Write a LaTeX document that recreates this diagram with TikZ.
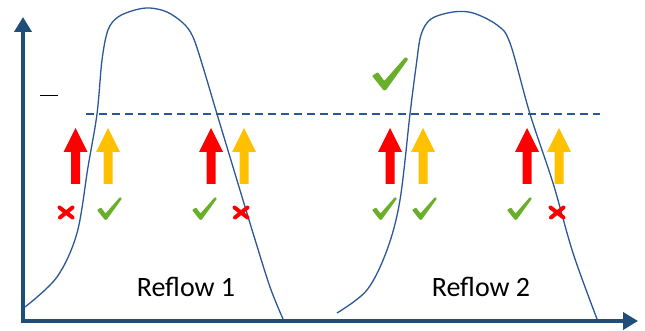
\documentclass[tikz,border=0pt]{standalone}
\usepackage{fontspec}
\setmainfont{Carlito}
\usetikzlibrary{arrows.meta}
\definecolor{axisblue}{HTML}{1F4E79}
\definecolor{curveblue}{HTML}{2B5797}
\definecolor{okgreen}{HTML}{6AAF2A}
\definecolor{arrred}{HTML}{FF0000}
\definecolor{arryel}{HTML}{FFC000}
\tikzset{
  axisline/.style={draw=axisblue, line width=4pt, -{Triangle[length=15pt,width=17pt]}},
  profile/.style={draw=curveblue, line width=1.3pt},
  limitline/.style={draw=curveblue, line width=1.1pt, dash pattern=on 8pt off 5pt},
  lbl/.style={font=\fontsize{28}{30}\selectfont, inner sep=0pt},
  blockarrow/.pic={\fill (-4.5,184) -- (-4.5,152) -- (-12,152) -- (0,128) -- (12,152) -- (4.5,152) -- (4.5,184) -- cycle;},
  chk/.pic={\fill[okgreen, rounded corners=0.8pt] (0,13) -- (4,10.5) -- (8.5,16.5) -- (23,0) -- (25,1.5) -- (9.5,23) -- (8,23) -- cycle;},
  crs/.pic={\draw[arrred, line width=4pt, line cap=round] (2.5,2.5) -- (15.5,12.5) (15.5,2.5) -- (3,12.5);}
}
\begin{document}
\begin{tikzpicture}[x=1pt,y=-1pt]
\useasboundingbox (0,0) rectangle (645,331);
% axes
\coordinate (o) at (23,321);
\coordinate (ytop) at (23,17);
\coordinate (xend) at (638,321);
\draw[axisline] (23,323) -- (ytop);
\draw[axisline] (21,321) -- (xend);
% small black tick
\draw[black, line width=0.9pt] (40,95) -- (58,95);
% dashed limit line
\coordinate (d1) at (86,114);
\coordinate (d2) at (600,114);
\draw[limitline] (d1) -- (d2);
% profiles
\draw[profile] plot[smooth, tension=0.55] coordinates {(25,307) (57,277) (77,233) (88,167) (97,114) (102,60) (108,30) (118,17) (135,10) (150,8) (167,12) (183,23) (193,37) (203,67) (217,114) (233,167) (253,233) (270,287) (283,319)};
\draw[profile] plot[smooth, tension=0.55] coordinates {(337,313) (367,290) (387,250) (400,200) (410,114) (416,67) (421,35) (431,19) (453,12) (473,13) (497,25) (510,43) (530,114) (553,183) (573,253) (597,319)};
% block arrows
\pic[arrred] at (75.5,0) {blockarrow};
\pic[arryel] at (108,0) {blockarrow};
\pic[arrred] at (211,0) {blockarrow};
\pic[arryel] at (244,0) {blockarrow};
\pic[arrred] at (390,0) {blockarrow};
\pic[arryel] at (423,0) {blockarrow};
\pic[arrred] at (527,0) {blockarrow};
\pic[arryel] at (559,0) {blockarrow};
% marks
\pic at (57,205) {crs};
\pic at (97,197) {chk};
\pic at (192,197) {chk};
\pic at (232,205) {crs};
\pic at (372,197) {chk};
\pic at (412,197) {chk};
\pic at (507,197) {chk};
\pic at (548,205) {crs};
\pic[scale=1.45] at (372,57) {chk};
% labels
\node[lbl] (r1) at (186,287) {Reflow 1};
\node[lbl] (r2) at (481,287) {Reflow 2};
\end{tikzpicture}
\end{document}
